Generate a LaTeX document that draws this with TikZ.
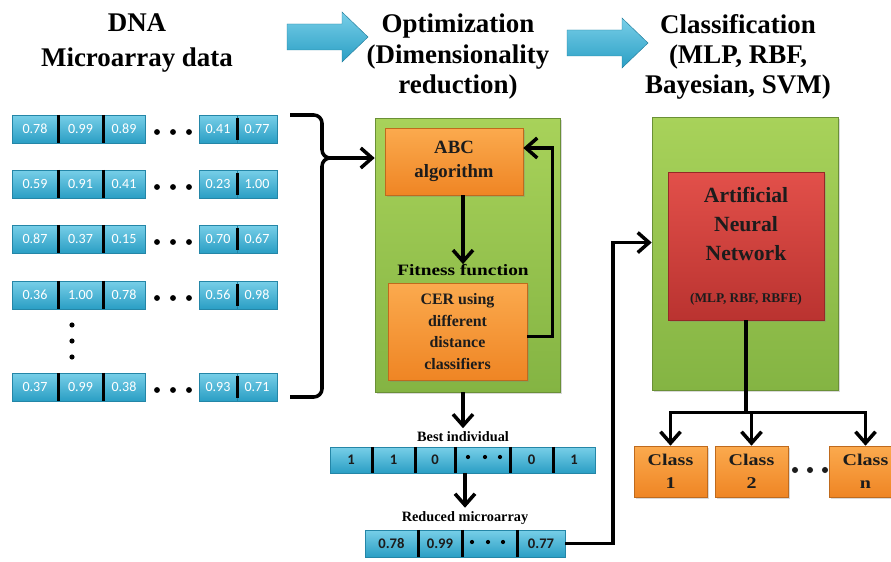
\documentclass[tikz,border=0pt]{standalone}
\usepackage{fontspec}
\setmainfont{Liberation Serif}
\newfontfamily\wideserif[FakeStretch=1.22]{Liberation Serif}
\newfontfamily\cellfont{Carlito}
\usetikzlibrary{arrows.meta,calc,shadows}

\definecolor{cyanL}{HTML}{78CFE8}
\definecolor{cyanD}{HTML}{2A9EC4}
\definecolor{greenL}{HTML}{A8D25A}
\definecolor{greenD}{HTML}{84B443}
\definecolor{orangeL}{HTML}{FBAA4E}
\definecolor{orangeD}{HTML}{EF8524}
\definecolor{redL}{HTML}{E2504A}
\definecolor{redD}{HTML}{BA3330}
\definecolor{inkc}{HTML}{1C1C1C}

\begin{document}
\begin{tikzpicture}[
  x=0.03cm, y=-0.03cm,
  >={Straight Barb[length=3.4mm, width=6mm]},
  ln/.style    = {line width=3pt, black},
  arr/.style   = {ln, ->},
  divln/.style = {line width=2.3pt, black},
  head/.style  = {font=\bfseries\fontsize{23}{25.8}\selectfont, align=center, inner sep=0pt},
  shd/.style   = {drop shadow={opacity=0.3, shadow xshift=1.5pt, shadow yshift=-1.5pt}},
  panel/.style = {rectangle, inner sep=0pt, top color=greenL, bottom color=greenD,
                  draw=greenD!80!black, line width=0.5pt, shd},
  obox/.style  = {rectangle, inner sep=0pt, align=center, top color=orangeL, bottom color=orangeD,
                  draw=orangeD!80!black, line width=0.5pt, text=inkc, shd},
  rbox/.style  = {obox, top color=redL, bottom color=redD, draw=redD!80!black},
  cw/.style    = {minimum width={#1*0.03cm}},
  ch/.style    = {minimum height={#1*0.03cm}},
  cellc/.style = {rectangle, inner sep=0pt, top color=cyanL, bottom color=cyanD,
                  draw=cyanD!85!black, line width=0.4pt, text=white,
                  font=\cellfont\fontsize{12}{14}\selectfont},
  cellb/.style = {cellc, text=inkc, font=\cellfont\bfseries\fontsize{12.5}{14}\selectfont},
  lbl/.style   = {font=\bfseries\fontsize{12.2}{14}\selectfont, inner sep=0pt},
  wlbl/.style  = {font=\wideserif\bfseries\fontsize{13.5}{16}\selectfont, inner sep=0pt},
]
\clip (0,0) rectangle (891,562);

%% headings and block arrows
\node[head, anchor=base] (dna) at (137,32) {DNA};
\node[head, anchor=base] (mad) at (137,67) {Microarray data};
\node[head, anchor=north] (opth) at (458,14) {Optimization\\(Dimensionality\\reduction)};
\node[head, anchor=north] (clsh) at (738,14) {Classification\\(MLP, RBF,\\Bayesian, SVM)};
\foreach \sx/\sy in {0/0, 280/6}
  \shade[shift={(\sx,\sy)}, top color=cyanL, bottom color=cyanD, draw=cyanD!80!black, line width=0.4pt]
    (287,24) -- (342,24) -- (342,12) -- (368,37) -- (342,62) -- (342,50) -- (287,50) -- cycle;

%% input microarray rows
\foreach \r/\y/\va/\vb/\vc/\vd/\ve in {1/129/0.78/0.99/0.89/0.41/0.77,
    2/184/0.59/0.91/0.41/0.23/1.00, 3/239/0.87/0.37/0.15/0.70/0.67,
    4/295/0.36/1.00/0.78/0.56/0.98, 5/387/0.37/0.99/0.38/0.93/0.71}{
  \node[cellc, cw=46, ch=28] (r\r-a) at (35,\y)    {\va};
  \node[cellc, cw=45, ch=28] (r\r-b) at (80.5,\y)  {\vb};
  \node[cellc, cw=42, ch=28] (r\r-c) at (124,\y)   {\vc};
  \node[cellc, cw=38, ch=28] (r\r-d) at (218,\y)   {\vd};
  \node[cellc, cw=40, ch=28] (r\r-e) at (257,\y)   {\ve};
  \draw[divln] (r\r-a.north east) -- (r\r-a.south east);
  \draw[divln] (r\r-b.north east) -- (r\r-b.south east);
  \draw[divln] ([yshift=-2.5pt]r\r-d.north east) -- ([yshift=3pt]r\r-d.south east);
  \foreach \x in {157,173,189} \fill (\x,{\y+3}) circle[radius=2.5pt];
}
\foreach \y in {325,341,357} \fill (72,\y) circle[radius=2.2pt];

%% brace into the optimisation block
\coordinate (brt) at (290,115);
\coordinate (brb) at (290,397);
\coordinate (brc) at (322,158);

\node[panel, cw=185, ch=274] (opt) at (467.5,255) {};
\node[obox, cw=138, ch=67, font=\bfseries\fontsize{16}{21}\selectfont] (abc) at (454,161.5)
  {ABC\\algorithm};
\node[wlbl] (fit) at (463,270) {Fitness function};
\node[obox, cw=139, ch=97, font=\bfseries\fontsize{13.6}{18.4}\selectfont] (cer) at (457.5,331.5)
  {CER using\\different\\distance\\classifiers};

\draw[arr, rounded corners=7pt] (brt) -- (322,115) -- (brc) -- (brc -| opt.west);
\draw[ln, rounded corners=7pt] (brb) -- (322,397) -- (brc) -- ++(8,0);
\draw[arr] (abc.south -| fit.north) -- (fit.north);
\draw[arr] ($(cer.north east)!0.55!(cer.south east)$) -- ++(25,0)
  |- ($(abc.north east)!0.3!(abc.south east)$);

%% best individual and reduced microarray
\node[lbl] (bestl) at (463,437) {Best individual};
\foreach \i/\cx/\w/\t in {1/351/42/1, 2/393.5/43/1, 3/435/40/0, 4/482.5/55/{}, 5/531.5/43/0, 6/574/42/1}
  \node[cellb, cw=\w, ch=26] (b\i) at (\cx,460) {\t};
\foreach \i in {1,...,5} \draw[divln] (b\i.north east) -- (b\i.south east);
\foreach \x in {468,485,500} \fill (\x,457) circle[radius=1.8pt];

\node[lbl] (redl) at (465,518) {Reduced microarray};
\foreach \i/\cx/\w/\t in {1/391.5/53/0.78, 2/440/44/0.99, 3/489.5/55/{}, 4/541/48/0.77}
  \node[cellb, cw=\w, ch=27] (m\i) at (\cx,543.5) {\t};
\foreach \i in {1,...,3} \draw[divln] (m\i.north east) -- (m\i.south east);
\foreach \x in {472,488,503} \fill (\x,542) circle[radius=1.8pt];

\draw[arr, shorten >=3pt] (opt.south -| bestl.north) -- (bestl.north);
\draw[arr, shorten >=3pt] (redl.north |- b3.south) -- (redl.north);

%% classification block
\node[panel, cw=186, ch=273] (cls) at (745,253.5) {};
\node[rbox, cw=156, ch=148, font=\bfseries\fontsize{18.5}{24.7}\selectfont] (ann) at (746,246)
  {Artificial\\Neural\\Network\\[11pt]{\fontsize{11.4}{13}\selectfont(MLP, RBF, RBFE)}};
\draw[arr] (m4.east) -- ++(48,0) |- ($(cls.north west)!0.46!(cls.south west)$);

\node[obox, cw=73, ch=51, font=\wideserif\bfseries\fontsize{14}{20}\selectfont] (c1) at (670.5,471.5) {Class\\1};
\node[obox, cw=73, ch=51, font=\wideserif\bfseries\fontsize{14}{20}\selectfont] (c2) at (751.5,471.5) {Class\\2};
\node[obox, cw=73, ch=51, font=\wideserif\bfseries\fontsize{14}{20}\selectfont] (cn) at (865.5,471.5) {Class\\n};
\foreach \x in {795,810,825} \fill[inkc] (\x,470) circle[radius=2.6pt];

\coordinate (split) at ($(ann.south)+(0,92)$);
\draw[ln] (ann.south) -- (split);
\draw[arr] (split) -| (c1.north);
\draw[arr] (split) -| (cn.north);
\draw[arr] (split -| c2.north) -- (c2.north);

\end{tikzpicture}
\end{document}
